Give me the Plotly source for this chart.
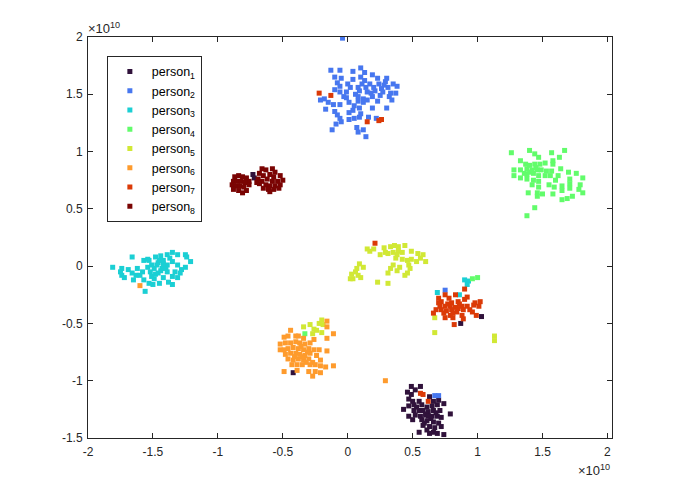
import plotly.graph_objects as go

names = ["person<sub>1</sub>", "person<sub>2</sub>", "person<sub>3</sub>", "person<sub>4</sub>",
         "person<sub>5</sub>", "person<sub>6</sub>", "person<sub>7</sub>", "person<sub>8</sub>"]
colors = ["#30123b", "#4777ef", "#1bcfd4", "#62fc6b", "#d1e835", "#fe9b2d", "#db3a07", "#7a0403"]

x_ticks = [-2, -1.5, -1, -0.5, 0, 0.5, 1, 1.5, 2]
y_ticks = [-1.5, -1, -0.5, 0, 0.5, 1, 1.5, 2]
SCALE = 1e10

# values in units of 1e10
p1 = [(0.49,-1.05),(0.52,-1.08),(0.56,-1.05),(0.46,-1.10),(0.49,-1.12),(0.63,-1.14),(0.47,-1.16),
      (0.50,-1.18),(0.55,-1.18),(0.66,-1.18),(0.70,-1.17),(0.47,-1.22),(0.51,-1.21),(0.57,-1.21),
      (0.61,-1.23),(0.65,-1.22),(0.69,-1.21),(0.74,-1.20),(0.43,-1.25),(0.51,-1.26),(0.55,-1.26),
      (0.58,-1.26),(0.62,-1.27),(0.66,-1.26),(0.71,-1.26),(0.79,-1.29),(0.47,-1.31),(0.52,-1.30),
      (0.56,-1.31),(0.60,-1.30),(0.65,-1.31),(0.69,-1.31),(0.72,-1.32),(0.50,-1.34),(0.57,-1.34),
      (0.61,-1.35),(0.66,-1.36),(0.70,-1.37),(0.58,-1.39),(0.63,-1.40),(0.67,-1.41),(0.72,-1.40),
      (0.61,-1.43),(0.66,-1.45),(0.55,-1.45),(0.63,-1.46),(0.74,-1.47),(0.69,-1.46),(0.60,-1.29),
      (0.64,-1.33),(0.59,-1.37),(0.53,-1.23),(0.68,-1.28),(0.62,-1.31),
      (-0.73,0.80),(-0.72,0.77),(0.87,-0.50),(1.03,-0.44),(-0.42,-0.93)]
p2 = [(-0.13,1.71),(-0.06,1.71),(0.10,1.73),(0.13,1.69),(0.04,1.70),(-0.10,1.65),(-0.05,1.64),
      (0.10,1.65),(0.19,1.67),(0.23,1.64),(0.30,1.64),(0.04,1.63),(0.13,1.62),(-0.08,1.60),
      (0.00,1.59),(0.11,1.59),(0.17,1.59),(0.24,1.59),(0.29,1.61),(0.35,1.59),(0.38,1.57),
      (-0.06,1.57),(0.02,1.56),(0.08,1.56),(0.14,1.56),(0.20,1.56),(0.26,1.55),(0.31,1.56),
      (-0.10,1.54),(-0.01,1.52),(0.09,1.53),(0.15,1.52),(0.21,1.53),(0.27,1.52),(0.33,1.51),
      (0.37,1.51),(-0.06,1.52),(-0.03,1.48),(0.08,1.48),(0.12,1.46),(0.19,1.48),(0.25,1.49),
      (0.32,1.48),(-0.01,1.47),(-0.18,1.46),(-0.21,1.45),(0.34,1.45),(-0.15,1.43),(-0.11,1.41),
      (-0.06,1.41),(0.01,1.43),(0.08,1.44),(0.12,1.43),(0.15,1.45),(0.23,1.44),(0.19,1.38),
      (0.09,1.38),(0.30,1.38),(-0.17,1.37),(0.04,1.36),(0.01,1.34),(-0.10,1.35),(-0.08,1.32),
      (0.10,1.33),(0.16,1.30),(-0.06,1.29),(0.01,1.28),(0.05,1.29),(0.09,1.30),(0.22,1.29),
      (-0.05,1.26),(-0.09,1.24),(0.07,1.21),(0.12,1.19),(-0.12,1.19),(0.08,1.17),(0.14,1.13),
      (0.06,1.50),(0.18,1.51),(0.28,1.58),(0.05,1.40),(-0.04,1.99),
      (0.67,-1.13),(0.70,-1.13),(0.75,-0.21)]
p3 = [(-1.81,-0.01),(-1.66,0.08),(-1.74,-0.02),(-1.75,-0.05),(-1.74,-0.08),(-1.72,-0.10),
      (-1.69,-0.03),(-1.66,-0.06),(-1.63,-0.08),(-1.62,-0.02),(-1.58,-0.05),(-1.65,-0.12),
      (-1.57,0.05),(-1.53,0.05),(-1.54,-0.01),(-1.51,0.01),(-1.49,-0.02),(-1.47,0.01),
      (-1.48,0.08),(-1.44,0.09),(-1.42,0.05),(-1.39,0.10),(-1.35,0.12),(-1.31,0.10),
      (-1.25,0.10),(-1.24,0.08),(-1.21,0.04),(-1.25,-0.01),(-1.28,-0.03),(-1.31,0.01),
      (-1.35,0.04),(-1.39,0.01),(-1.43,-0.02),(-1.52,-0.05),(-1.46,-0.06),(-1.39,-0.05),
      (-1.33,-0.05),(-1.29,-0.06),(-1.35,-0.09),(-1.42,-0.10),(-1.49,-0.11),(-1.57,-0.12),
      (-1.53,-0.15),(-1.45,-0.15),(-1.38,-0.14),(-1.31,-0.10),(-1.50,-0.16),(-1.35,-0.16),
      (-1.56,-0.22),(-1.54,0.06),(-1.46,0.03),(-1.44,-0.04),(-1.40,-0.02),(-1.48,-0.07),
      (-1.51,-0.09),(-1.42,0.02),(-1.37,0.07),(-1.45,0.05),(-1.60,-0.08),
      (0.90,-0.12),(0.93,-0.13),(0.92,-0.16),(0.69,-0.23),(0.86,-0.25)]
p4 = [(1.26,0.99),(1.40,1.01),(1.44,0.98),(1.47,0.95),(1.57,0.99),(1.67,1.01),(1.63,0.95),
      (1.58,0.92),(1.33,0.92),(1.37,0.89),(1.40,0.88),(1.44,0.89),(1.48,0.89),(1.52,0.90),
      (1.58,0.89),(1.28,0.84),(1.33,0.84),(1.38,0.85),(1.42,0.84),(1.46,0.84),(1.49,0.84),
      (1.53,0.83),(1.57,0.83),(1.64,0.85),(1.70,0.82),(1.76,0.81),(1.28,0.79),(1.33,0.77),
      (1.38,0.80),(1.43,0.81),(1.47,0.79),(1.52,0.79),(1.56,0.79),(1.62,0.79),(1.38,0.76),
      (1.43,0.75),(1.47,0.74),(1.60,0.75),(1.71,0.76),(1.81,0.77),(1.42,0.71),(1.55,0.71),
      (1.59,0.69),(1.65,0.70),(1.71,0.72),(1.79,0.71),(1.47,0.69),(1.71,0.68),(1.65,0.66),
      (1.78,0.67),(1.39,0.64),(1.46,0.64),(1.50,0.63),(1.58,0.63),(1.81,0.64),(1.46,0.61),
      (1.73,0.61),(1.69,0.59),(1.65,0.58),(1.44,0.51),(1.38,0.44),(1.40,0.82),(1.45,0.86),
      (1.36,0.81),
      (0.96,-0.11),(1.00,-0.10),(-0.33,-0.59)]
p5 = [(0.15,0.15),(0.17,0.13),(0.20,0.15),(0.28,0.16),(0.33,0.17),(0.36,0.18),(0.39,0.17),
      (0.44,0.18),(0.31,0.11),(0.35,0.12),(0.39,0.13),(0.42,0.12),(0.49,0.13),(0.54,0.11),
      (0.58,0.10),(0.37,0.07),(0.42,0.06),(0.46,0.05),(0.49,0.06),(0.56,0.07),(0.38,0.10),
      (0.60,0.04),(0.53,0.04),(0.09,0.02),(0.12,-0.01),(0.07,-0.02),(0.06,-0.05),(0.03,-0.07),
      (0.08,-0.08),(0.04,-0.11),(0.02,-0.11),(0.10,-0.10),(0.35,0.01),(0.40,-0.01),(0.33,-0.02),
      (0.31,-0.06),(0.38,-0.04),(0.47,0.01),(0.48,-0.02),(0.46,-0.06),(0.44,-0.08),(0.23,-0.14),
      (0.31,-0.15),(0.29,0.12),(0.25,0.10),
      (-0.34,-0.53),(-0.29,-0.51),(-0.26,-0.55),(-0.27,-0.59),(-0.22,-0.50),(-0.20,-0.47),
      (-0.19,-0.51),(-0.20,-0.58),(-0.24,-0.56),
      (0.67,-0.45),(0.67,-0.58),(1.13,-0.61),(1.13,-0.65)]
p6 = [(-0.16,-0.48),(-0.16,-0.53),(-0.11,-0.59),(-0.16,-0.63),(-0.44,-0.56),(-0.49,-0.62),
      (-0.46,-0.61),(-0.40,-0.61),(-0.38,-0.61),(-0.34,-0.63),(-0.26,-0.64),(-0.52,-0.68),
      (-0.48,-0.67),(-0.44,-0.67),(-0.40,-0.66),(-0.37,-0.67),(-0.33,-0.68),(-0.29,-0.67),
      (-0.49,-0.73),(-0.52,-0.73),(-0.46,-0.72),(-0.42,-0.71),(-0.38,-0.72),(-0.34,-0.73),
      (-0.30,-0.72),(-0.26,-0.73),(-0.22,-0.73),(-0.16,-0.74),(-0.48,-0.77),(-0.44,-0.76),
      (-0.40,-0.76),(-0.37,-0.77),(-0.33,-0.78),(-0.29,-0.76),(-0.24,-0.78),(-0.46,-0.81),
      (-0.42,-0.82),(-0.38,-0.81),(-0.34,-0.82),(-0.30,-0.81),(-0.27,-0.84),(-0.21,-0.82),
      (-0.43,-0.86),(-0.39,-0.86),(-0.35,-0.86),(-0.29,-0.86),(-0.25,-0.86),(-0.21,-0.87),
      (-0.17,-0.88),(-0.11,-0.87),(-0.49,-0.92),(-0.39,-0.91),(-0.30,-0.92),(-0.25,-0.92),
      (-0.21,-0.93),(-0.27,-0.96),(-0.36,-0.70),(-0.31,-0.75),(-0.35,-0.79),(-0.41,-0.79),
      (-0.32,-0.84),
      (-1.60,-0.17),(0.29,-1.00)]
p7 = [(0.90,-0.20),(0.75,-0.25),(0.83,-0.25),(0.70,-0.28),(0.72,-0.31),(0.78,-0.28),(0.80,-0.32),
      (0.85,-0.31),(0.90,-0.29),(0.92,-0.27),(1.02,-0.31),(0.98,-0.32),(0.71,-0.35),(0.75,-0.35),
      (0.79,-0.35),(0.83,-0.36),(0.88,-0.35),(0.92,-0.35),(0.97,-0.34),(1.01,-0.35),(0.68,-0.38),
      (0.72,-0.38),(0.76,-0.39),(0.80,-0.38),(0.84,-0.40),(0.89,-0.38),(0.94,-0.38),(0.96,-0.40),
      (0.66,-0.41),(0.74,-0.41),(0.79,-0.43),(0.81,-0.45),(0.88,-0.43),(0.99,-0.43),(0.75,-0.45),
      (0.89,-0.46),(0.82,-0.51),(0.70,-0.32),(0.77,-0.33),(0.86,-0.33),(0.81,-0.41),(0.85,-0.37),
      (-0.22,1.51),(-0.13,1.49),(0.15,1.26),(0.24,1.27),(0.26,1.28),(0.21,0.20),
      (0.56,-1.11),(0.58,-1.12),(0.62,-1.18)]
p8 = [(-0.87,0.78),(-0.84,0.79),(-0.81,0.78),(-0.78,0.77),(-0.76,0.74),(-0.88,0.74),(-0.85,0.74),
      (-0.82,0.74),(-0.79,0.73),(-0.89,0.71),(-0.86,0.70),(-0.83,0.70),(-0.80,0.69),(-0.76,0.71),
      (-0.88,0.67),(-0.84,0.66),(-0.81,0.64),(-0.78,0.66),
      (-0.66,0.85),(-0.63,0.84),(-0.58,0.85),(-0.56,0.82),(-0.68,0.81),(-0.65,0.79),(-0.60,0.80),
      (-0.57,0.78),(-0.52,0.79),(-0.50,0.75),(-0.69,0.76),(-0.66,0.74),(-0.62,0.76),(-0.58,0.74),
      (-0.54,0.74),(-0.68,0.72),(-0.63,0.71),(-0.60,0.70),(-0.56,0.70),(-0.52,0.71),(-0.65,0.68),
      (-0.61,0.67),(-0.57,0.67),(-0.53,0.68),(-0.60,0.65),(-0.70,0.73)]

groups = [p1, p2, p3, p4, p5, p6, p7, p8]

fig = go.Figure()
for name, col, pts in zip(names, colors, groups):
    fig.add_trace(go.Scatter(
        x=[p[0] * SCALE for p in pts], y=[p[1] * SCALE for p in pts],
        mode="markers", name=name,
        marker=dict(symbol="square", size=5, color=col, line=dict(width=0)),
    ))

FONT = "Liberation Sans, Arial, sans-serif"
axis_common = dict(
    showgrid=False, zeroline=False, showline=True, linecolor="#262626", linewidth=1,
    mirror="ticks", ticks="inside", ticklen=5, tickcolor="#262626",
    tickfont=dict(family=FONT, size=12, color="#262626"),
)
fig.update_xaxes(range=[-2 * SCALE, 2.035 * SCALE], tickvals=[v * SCALE for v in x_ticks],
                 ticktext=[("%g" % v) for v in x_ticks], ticklabelstandoff=3, **axis_common)
fig.update_yaxes(range=[-1.5 * SCALE, 2 * SCALE], tickvals=[v * SCALE for v in y_ticks],
                 ticktext=[("%g" % v) for v in y_ticks], ticklabelstandoff=2, **axis_common)

fig.update_layout(
    width=673, height=494, autosize=False,
    margin=dict(l=88, r=61, t=37, b=56),
    plot_bgcolor="white", paper_bgcolor="white",
    font=dict(family=FONT, size=12, color="#262626"),
    showlegend=True,
    legend=dict(x=0.036, y=0.953, xanchor="left", yanchor="top",
                bordercolor="#262626", borderwidth=1, bgcolor="white",
                font=dict(family=FONT, size=12.5, color="#000000"), tracegroupgap=0, itemwidth=34),
    annotations=[
        dict(text="×10<sup>10</sup>", xref="paper", yref="paper", x=0, y=1, xanchor="left",
             yanchor="bottom", showarrow=False, font=dict(family=FONT, size=13, color="#262626"),
             yshift=-1, xshift=-2),
        dict(text="×10<sup>10</sup>", xref="paper", yref="paper", x=1, y=0, xanchor="right",
             yanchor="top", showarrow=False, font=dict(family=FONT, size=13, color="#262626"),
             yshift=-22, xshift=0),
    ],
)

fig.write_html("out.html")
